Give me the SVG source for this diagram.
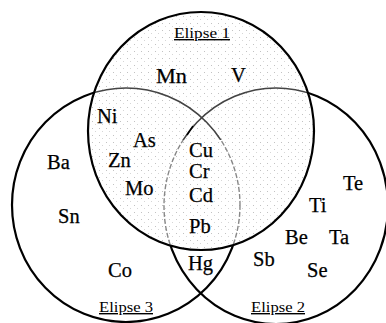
<svg xmlns="http://www.w3.org/2000/svg" width="386" height="323" viewBox="0 0 386 323">
<style>
.el{font-family:"Liberation Serif","Times New Roman",serif;font-size:20.5px;fill:#000;stroke:#000;stroke-width:0.25}
.lab{font-family:"Liberation Serif","Times New Roman",serif;font-size:14px;fill:#000;text-decoration:underline}
.outer{fill:none;stroke:#000;stroke-width:2.2}
.inUp{fill:none;stroke:#444;stroke-width:1.6}
.inLow{fill:none;stroke:#888;stroke-width:1.4;stroke-dasharray:5 2}
</style>
<defs>
<pattern id="dots" width="7" height="7" patternUnits="userSpaceOnUse">
<rect x="1" y="2" width="1" height="1" fill="#999"/>
<rect x="4" y="5" width="1" height="1" fill="#bbb"/>
</pattern>
<clipPath id="c1"><ellipse cx="201" cy="131" rx="113" ry="119"/></clipPath>
<clipPath id="upper"><rect x="0" y="0" width="386" height="140"/></clipPath>
<clipPath id="lower"><rect x="0" y="140" width="386" height="183"/></clipPath>
</defs>
<rect width="386" height="323" fill="#fff"/>
<g id="ellipses">
<g id="elipse3-outline"><ellipse class="outer" cx="126" cy="205" rx="114" ry="117"/></g>
<g id="elipse2-outline"><ellipse class="outer" cx="276" cy="206" rx="112" ry="118"/></g>
<g id="elipse1-fill">
<ellipse cx="201" cy="131" rx="113" ry="119" fill="#fff"/>
<ellipse cx="201" cy="131" rx="113" ry="119" fill="url(#dots)" opacity="0.6"/>
</g>
<g clip-path="url(#c1)">
<g clip-path="url(#upper)">
<ellipse class="inUp" cx="126" cy="205" rx="114" ry="117"/>
<ellipse class="inUp" cx="276" cy="206" rx="112" ry="118"/>
</g>
<g clip-path="url(#lower)">
<ellipse class="inLow" cx="126" cy="205" rx="114" ry="117"/>
<ellipse class="inLow" cx="276" cy="206" rx="112" ry="118"/>
</g>
</g>
<g id="elipse1-outline"><ellipse class="outer" cx="201" cy="131" rx="113" ry="119"/></g>
<line x1="187" y1="135" x2="193" y2="126" stroke="#000" stroke-width="1.5"/>
</g>
<g id="labels">
<text class="lab" x="174" y="38" textLength="56" lengthAdjust="spacingAndGlyphs">Elipse 1</text>
<text class="lab" x="99" y="312" textLength="54" lengthAdjust="spacingAndGlyphs">Elipse 3</text>
<text class="lab" x="251" y="312" textLength="54" lengthAdjust="spacingAndGlyphs">Elipse 2</text>
</g>
<g id="elements">
<text class="el" x="156" y="83" textLength="31" lengthAdjust="spacingAndGlyphs">Mn</text>
<text class="el" x="231" y="82">V</text>
<text class="el" x="97" y="123">Ni</text>
<text class="el" x="133" y="147">As</text>
<text class="el" x="108" y="167">Zn</text>
<text class="el" x="47" y="169">Ba</text>
<text class="el" x="189" y="157">Cu</text>
<text class="el" x="189" y="178">Cr</text>
<text class="el" x="189" y="202">Cd</text>
<text class="el" x="125" y="195">Mo</text>
<text class="el" x="58" y="223">Sn</text>
<text class="el" x="189" y="233">Pb</text>
<text class="el" x="343" y="190">Te</text>
<text class="el" x="309" y="212">Ti</text>
<text class="el" x="285" y="244">Be</text>
<text class="el" x="329" y="244">Ta</text>
<text class="el" x="188" y="270">Hg</text>
<text class="el" x="253" y="266">Sb</text>
<text class="el" x="307" y="277">Se</text>
<text class="el" x="108" y="277">Co</text>
</g>
</svg>
